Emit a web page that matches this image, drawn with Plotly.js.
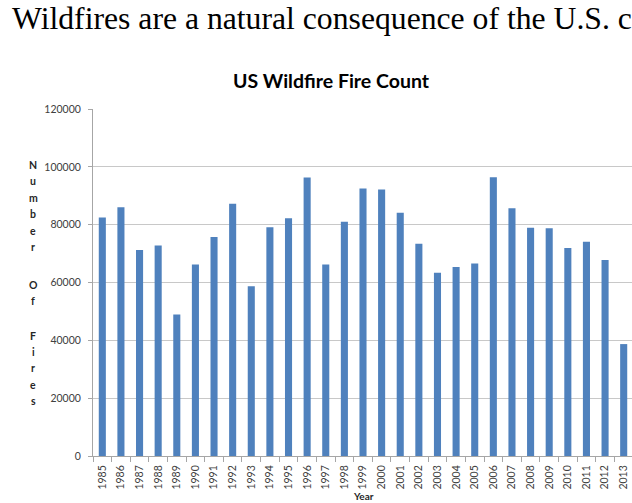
<!DOCTYPE html>
<html>
<head>
<meta charset="utf-8">
<script src="https://cdn.plot.ly/plotly-3.0.1.min.js"></script>
<style>
html,body{margin:0;padding:0;background:#fff;overflow:hidden;width:632px;height:503px;}
#chart{width:640px;height:503px;}
</style>
</head>
<body>
<div id="chart"></div>
<script>
// Data
const years = ["1985","1986","1987","1988","1989","1990","1991","1992","1993","1994","1995","1996","1997","1998","1999","2000","2001","2002","2003","2004","2005","2006","2007","2008","2009","2010","2011","2012","2013"];
const fireCounts = [82500,86000,71200,72800,48900,66200,75700,87200,58700,79100,82200,96300,66200,81000,92500,92200,84100,73400,63400,65400,66600,96400,85700,78900,78800,71900,74100,67800,38700];
const yTickValues = [0,20000,40000,60000,80000,100000,120000];
const chartTitle = "US Wildfire Fire Count";
const xTitle = "Year";
const yTitleLetters = ["N","u","m","b","e","r","O","f","F","i","r","e","s"];
const headerText = "Wildfires are a natural consequence of the U.S. c";

// layout geometry (pixels)
const W = 640, H = 503;
const mL = 93, mR = 7, mT = 109, mB = 47;
const plotH = H - mT - mB;
const letterPx = [165,181.4,197.8,214.2,230.6,247,284.5,300.5,336,352,368,384.5,401];

const annotations = [];
annotations.push({
  text: headerText, xref: 'paper', yref: 'paper', x: 0, y: 1,
  xanchor: 'left', yanchor: 'middle', xshift: 10 - mL, yshift: mT - 18,
  showarrow: false,
  font: {family: '"Liberation Serif", "Times New Roman", serif', size: 31.7, color: '#000'}
});
annotations.push({
  text: '<b>' + xTitle + '</b>', xref: 'paper', yref: 'paper', x: 0.5, y: 0,
  xanchor: 'center', yanchor: 'middle', yshift: -(496 - (H - mB)),
  showarrow: false,
  font: {family: 'Lato, "Open Sans", sans-serif', size: 10, color: '#262626'}
});
yTitleLetters.forEach((ch, i) => {
  annotations.push({
    text: '<b>' + ch + '</b>', xref: 'paper', yref: 'paper',
    x: 0, y: (H - mB - letterPx[i]) / plotH,
    xanchor: 'center', yanchor: 'middle', xshift: 33 - mL,
    showarrow: false,
    font: {family: 'Lato, "Open Sans", sans-serif', size: 10.5, color: '#262626'}
  });
});

const trace = {
  type: 'bar', x: years, y: fireCounts,
  marker: {color: '#4f81bd', line: {width: 0}},
  hoverinfo: 'x+y'
};

const layout = {
  width: W, height: H,
  margin: {l: mL, r: mR, t: mT, b: mB},
  paper_bgcolor: '#fff', plot_bgcolor: '#fff',
  showlegend: false,
  bargap: 0.62,
  title: {
    text: '<b>' + chartTitle + '</b>',
    xref: 'container', yref: 'container',
    x: 331 / W, y: 1 - 81 / H, xanchor: 'center', yanchor: 'middle',
    font: {family: 'Lato, "Open Sans", sans-serif', size: 19.5, color: '#000'}
  },
  xaxis: {
    type: 'category',
    tickson: 'boundaries',
    ticks: 'outside', ticklen: 5, tickcolor: '#a6a6a6', tickwidth: 1,
    tickangle: -90,
    ticklabelstandoff: 4,
    tickfont: {family: 'Lato, "Open Sans", sans-serif', size: 10.5, color: '#404040'},
    showline: true, linecolor: '#a6a6a6', linewidth: 1,
    showgrid: false, zeroline: false,
    automargin: false,
    fixedrange: true
  },
  yaxis: {
    range: [0, 120000],
    tickvals: yTickValues,
    ticktext: yTickValues.map(String),
    ticks: 'outside', ticklen: 4, tickcolor: '#a6a6a6',
    ticklabelstandoff: 5,
    tickfont: {family: 'Lato, "Open Sans", sans-serif', size: 10.5, color: '#404040'},
    showline: true, linecolor: '#a6a6a6', linewidth: 1,
    showgrid: true, gridcolor: '#c8c8c8', gridwidth: 1,
    zeroline: false,
    automargin: false,
    fixedrange: true
  },
  annotations: annotations
};

Plotly.newPlot('chart', [trace], layout, {displayModeBar: false, staticPlot: true});
</script>
</body>
</html>
